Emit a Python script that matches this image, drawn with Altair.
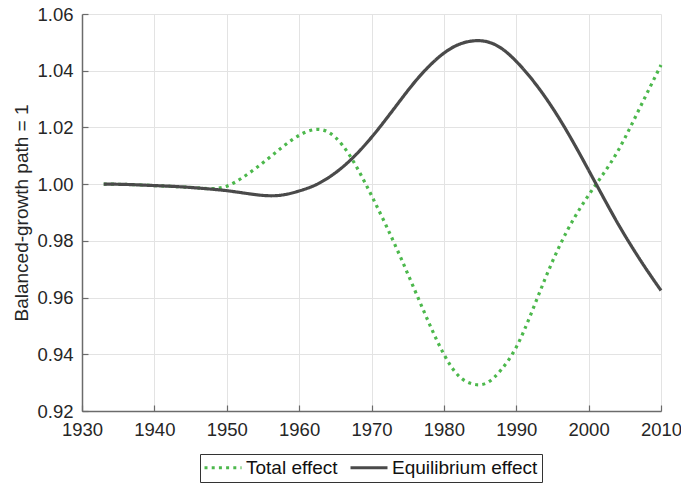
import altair as alt
import pandas as pd

# ---- data ----
series_names = ["Total effect", "Equilibrium effect"]

eq_years = [1933, 1936, 1940, 1944, 1948, 1950, 1952, 1954, 1956, 1958, 1960,
            1962, 1964, 1966, 1968, 1970, 1972, 1974, 1976, 1978, 1980, 1982,
            1984, 1986, 1988, 1990, 1992, 1994, 1996, 1998, 2000, 2002,
            2004, 2006, 2008, 2010]
eq_vals = [1.0000, 0.9999, 0.9995, 0.9990, 0.9982, 0.9977, 0.9970, 0.9963,
           0.9959, 0.9963, 0.9976, 0.9994, 1.0022, 1.0060, 1.0108, 1.0165,
           1.0229, 1.0296, 1.0361, 1.0417, 1.0462, 1.0492, 1.0505,
           1.0502, 1.0478, 1.0433, 1.0375, 1.0307, 1.0229, 1.0142, 1.0049,
           0.9955, 0.9863, 0.9778, 0.9699, 0.9625]

tot_years = [1933, 1936, 1940, 1944, 1946, 1948, 1950, 1952, 1954, 1956, 1958,
             1960, 1962, 1964, 1966, 1968, 1970, 1972, 1974, 1976, 1978,
             1980, 1982, 1984, 1986, 1988, 1990, 1992, 1994, 1996, 1998,
             2000, 2002, 2004, 2006, 2008, 2010]
tot_vals = [1.0000, 0.9999, 0.9995, 0.9990, 0.9987, 0.9984, 0.9993, 1.0020,
            1.0056, 1.0096, 1.0137, 1.0172, 1.0192, 1.0184, 1.0137,
            1.0058, 0.9960, 0.9855, 0.9743, 0.9625, 0.9507, 0.9400, 0.9325,
            0.9295, 0.9300, 0.9348, 0.9425, 0.9540, 0.9667, 0.9783,
            0.9880, 0.9961, 1.0035, 1.0115, 1.0213, 1.0317, 1.0420]

x_ticks = [1930, 1940, 1950, 1960, 1970, 1980, 1990, 2000, 2010]
y_ticks = [0.92, 0.94, 0.96, 0.98, 1.00, 1.02, 1.04, 1.06]

# ---- styling ----
colors = ["#4cb84c", "#4a4a4a"]
dashes = [[3, 4.2], [1, 0]]
FONT = "Liberation Sans"
TXT = "#262626"
AXC = "#6b6b6b"
GRID = "#e3e3e3"
W, H = 579, 397
FS = 19

df = pd.DataFrame({
    "year": tot_years + eq_years,
    "value": tot_vals + eq_vals,
    "series": [series_names[0]] * len(tot_years) + [series_names[1]] * len(eq_years),
})

legend = alt.Legend(
    orient="none", legendX=118, legendY=440, direction="horizontal",
    title=None, symbolType="M-3,0H3", symbolSize=152, symbolStrokeWidth=3.2,
    symbolOffset=9.5, labelOffset=13.5,
    labelFontSize=FS, labelFont=FONT, labelColor="#111111",
    columnPadding=6, padding=4, strokeColor="#333333", fillColor="white",
)

xscale = alt.Scale(domain=[1930, 2010], nice=False, zero=False)
yscale = alt.Scale(domain=[0.92, 1.06], nice=False, zero=False)

lines = alt.Chart(df).mark_line(strokeWidth=3.2, interpolate="natural").encode(
    x=alt.X("year:Q", scale=xscale, axis=alt.Axis(
        values=x_ticks, format="d", title=None, ticks=False, grid=True,
        gridColor=GRID, domainColor=AXC, domainWidth=1.5,
        labelFontSize=18.5, labelFont=FONT, labelColor=TXT, labelPadding=9,
        labelFlush=False)),
    y=alt.Y("value:Q", scale=yscale, axis=alt.Axis(
        values=y_ticks, format=".2f", title="Balanced-growth path = 1",
        ticks=False, grid=True, gridColor=GRID, domainColor=AXC, domainWidth=1.5,
        labelFontSize=18.5, labelFont=FONT, labelColor=TXT, labelPadding=9,
        titleFontSize=FS, titleFont=FONT, titleColor=TXT, titleFontWeight="normal",
        titlePadding=5)),
    color=alt.Color("series:N", scale=alt.Scale(domain=series_names, range=colors),
                    legend=legend),
    strokeDash=alt.StrokeDash("series:N", scale=alt.Scale(domain=series_names, range=dashes),
                              legend=legend),
)

inner_ticks = alt.Chart(df).mark_point(opacity=0).encode(
    x=alt.X("year:Q", axis=alt.Axis(
        orient="top", offset=-H, values=x_ticks, labels=False, domain=False,
        grid=False, ticks=True, tickSize=6, tickColor=AXC, tickWidth=1.2, title=None)),
    y=alt.Y("value:Q", axis=alt.Axis(
        orient="right", offset=-W, values=y_ticks, labels=False, domain=False,
        grid=False, ticks=True, tickSize=6, tickColor=AXC, tickWidth=1.2, title=None)),
)

chart = alt.layer(lines, inner_ticks).resolve_axis(
    x="independent", y="independent"
).properties(
    width=W, height=H,
    padding={"left": 82, "top": 14, "right": 20, "bottom": 72},
    autosize=alt.AutoSizeParams(type="none"),
    background="white",
).configure_view(stroke=None)

chart.save("out.html", embed_options={"renderer": "svg", "actions": False})
